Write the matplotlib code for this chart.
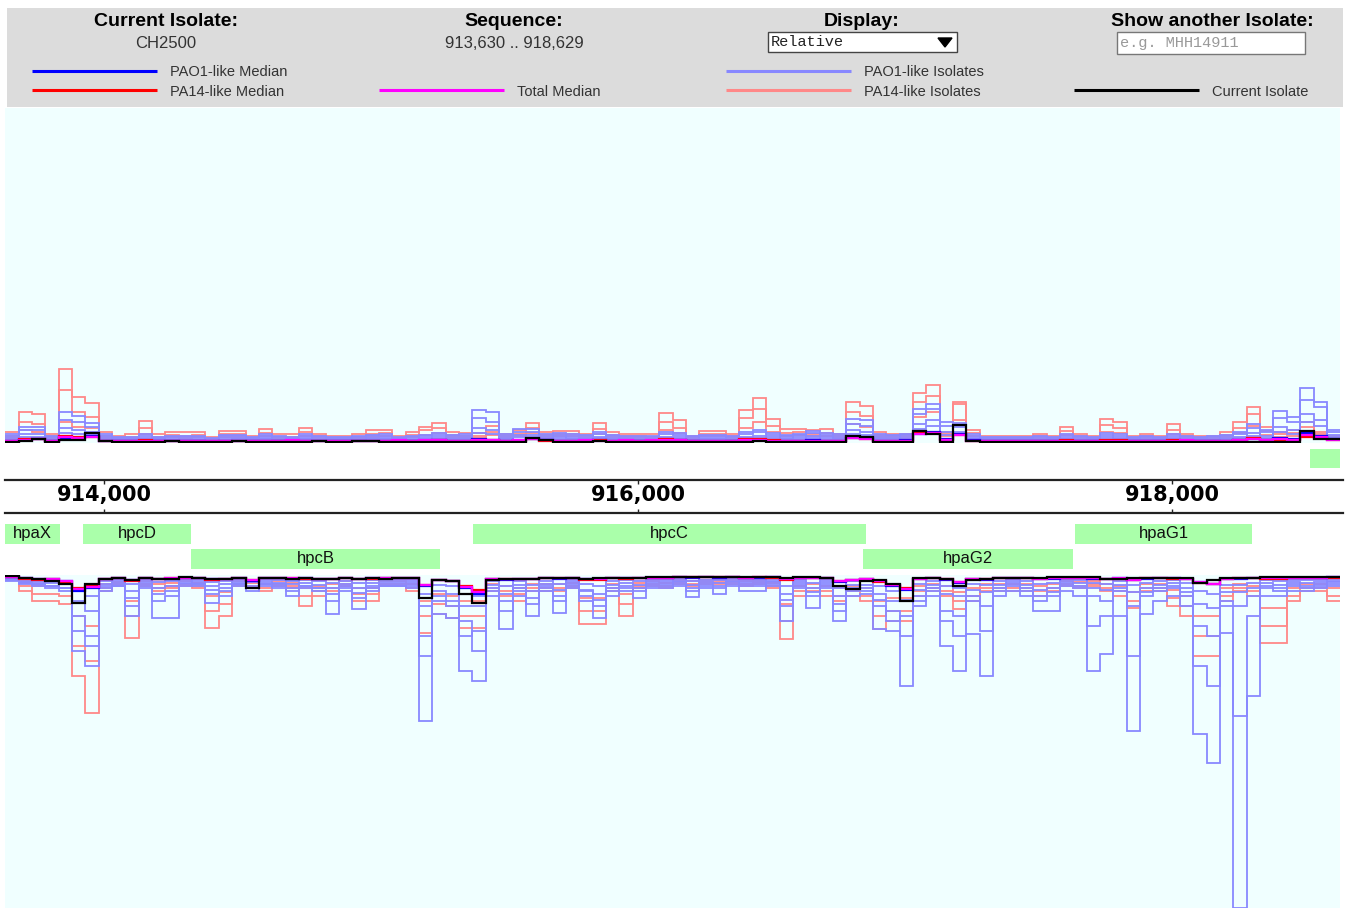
import numpy as np
import matplotlib
matplotlib.use('Agg')
import matplotlib.pyplot as plt
from matplotlib.patches import Rectangle, Polygon

W, H = 1347, 908

# sequence window (bp) and bin size of the coverage tracks
seq_start = 913630
seq_end = 918630
bin_size = 50

ticks = [914000, 916000, 918000]
tick_labels = ['914,000', '916,000', '918,000']

gene_names = ['hpaX', 'hpcD', 'hpcB', 'hpcC', 'hpaG2', 'hpaG1', '']
gene_starts = [913630, 913922, 914326, 915382, 916843, 917637, 918517]
gene_ends = [913836, 914326, 915259, 916854, 917629, 918300, 918650]
gene_tracks = [1, 1, 2, 1, 2, 1, 0]

# ---- forward strand (drawn upward) ----
top_pa14_a = [10, 30, 28, 8, 73, 45, 39, 10, 6, 8,
              21, 8, 10, 10, 10, 5, 11, 11, 6, 13,
              8, 8, 14, 8, 6, 6, 8, 12, 12, 6,
              10, 15, 19, 10, 9, 9, 16, 8, 12, 19,
              10, 11, 11, 8, 19, 10, 8, 8, 8, 29,
              22, 6, 11, 11, 8, 32, 44, 23, 13, 13,
              12, 13, 8, 40, 36, 10, 8, 8, 49, 57,
              10, 40, 12, 6, 6, 6, 6, 8, 6, 15,
              8, 6, 23, 20, 6, 8, 6, 18, 8, 6,
              6, 10, 20, 35, 15, 10, 12, 20, 10, 6]
top_pa14_b = [6, 20, 18, 6, 52, 30, 25, 6, 5, 5,
              14, 5, 7, 6, 7, 4, 8, 8, 4, 9,
              5, 5, 10, 6, 4, 4, 5, 8, 9, 4,
              7, 12, 14, 7, 6, 6, 10, 6, 8, 14,
              7, 8, 8, 6, 13, 7, 6, 6, 5, 20,
              14, 4, 8, 8, 6, 24, 33, 16, 9, 10,
              8, 9, 6, 30, 26, 7, 6, 6, 40, 46,
              8, 38, 9, 4, 4, 4, 5, 6, 5, 11,
              6, 5, 17, 14, 4, 6, 5, 12, 6, 5,
              5, 7, 14, 28, 11, 8, 9, 15, 8, 5]
top_pa14_c = [4, 12, 10, 4, 20, 15, 14, 4, 3, 3,
              8, 3, 5, 4, 5, 3, 5, 5, 3, 6,
              3, 3, 6, 4, 3, 3, 4, 5, 6, 3,
              5, 7, 9, 5, 4, 4, 7, 4, 6, 9,
              5, 6, 6, 4, 8, 5, 4, 4, 3, 12,
              9, 3, 6, 6, 4, 14, 20, 10, 6, 7,
              6, 6, 4, 18, 15, 5, 4, 4, 25, 30,
              6, 22, 6, 3, 3, 3, 4, 4, 3, 7,
              4, 3, 10, 9, 3, 4, 3, 8, 4, 3,
              3, 5, 9, 16, 7, 5, 6, 10, 5, 3]
top_pao1_a = [8, 15, 15, 6, 30, 26, 19, 8, 5, 5,
              8, 5, 6, 6, 6, 4, 7, 7, 5, 8,
              6, 5, 8, 6, 5, 5, 6, 7, 8, 5,
              6, 7, 9, 7, 8, 32, 30, 8, 13, 13,
              8, 9, 8, 7, 10, 7, 6, 6, 6, 10,
              9, 6, 7, 7, 6, 10, 12, 9, 7, 8,
              11, 9, 8, 23, 22, 8, 7, 8, 33, 38,
              20, 19, 8, 5, 5, 5, 5, 6, 5, 8,
              6, 5, 9, 8, 5, 6, 5, 8, 6, 5,
              6, 7, 10, 18, 12, 31, 25, 54, 40, 12]
top_pao1_b = [6, 12, 12, 5, 22, 20, 15, 6, 4, 4,
              6, 4, 5, 5, 5, 3, 6, 6, 4, 6,
              5, 4, 6, 5, 4, 4, 5, 6, 6, 4,
              5, 6, 7, 6, 6, 24, 20, 6, 10, 10,
              6, 7, 6, 6, 8, 6, 5, 5, 5, 8,
              7, 5, 6, 6, 5, 8, 10, 7, 6, 7,
              9, 7, 6, 18, 16, 6, 6, 7, 28, 33,
              16, 15, 6, 4, 4, 4, 4, 5, 4, 6,
              5, 4, 7, 6, 4, 5, 4, 6, 5, 4,
              5, 6, 8, 14, 10, 24, 20, 42, 35, 10]
top_pao1_c = [4, 8, 8, 3, 14, 12, 10, 4, 3, 3,
              4, 3, 3, 3, 3, 2, 4, 4, 3, 4,
              3, 3, 4, 3, 3, 3, 3, 4, 4, 3,
              3, 4, 5, 4, 4, 14, 12, 4, 7, 7,
              4, 5, 4, 4, 5, 4, 3, 3, 3, 5,
              5, 3, 4, 4, 3, 5, 6, 5, 4, 5,
              6, 5, 4, 12, 10, 4, 4, 5, 18, 22,
              10, 10, 4, 3, 3, 3, 3, 3, 3, 4,
              3, 3, 5, 4, 3, 3, 3, 4, 3, 3,
              3, 4, 5, 9, 6, 15, 12, 28, 22, 7]
top_pao1_d = [2, 5, 5, 2, 9, 8, 7, 2, 2, 2,
              3, 2, 2, 2, 2, 1, 2, 3, 2, 3,
              2, 2, 3, 2, 2, 2, 2, 3, 3, 2,
              2, 3, 3, 3, 3, 9, 8, 3, 5, 5,
              3, 3, 3, 3, 4, 3, 2, 2, 2, 4,
              3, 2, 3, 3, 2, 4, 4, 3, 3, 3,
              4, 3, 3, 8, 7, 3, 3, 3, 13, 16,
              7, 7, 3, 2, 2, 2, 2, 2, 2, 3,
              2, 2, 3, 3, 2, 2, 2, 3, 2, 2,
              2, 3, 4, 6, 4, 10, 8, 20, 16, 5]
top_pao1_median = [1, 2, 3, 1, 4, 4, 6, 1, 1, 1,
                   1, 1, 1, 1, 1, 0, 1, 1, 1, 1,
                   1, 1, 1, 1, 1, 1, 1, 1, 1, 1,
                   1, 1, 2, 1, 1, 3, 2, 1, 2, 3,
                   2, 1, 1, 1, 2, 1, 1, 1, 1, 2,
                   2, 1, 1, 1, 1, 2, 2, 1, 1, 1,
                   2, 1, 1, 4, 4, 1, 1, 2, 8, 10,
                   3, 8, 2, 1, 1, 1, 1, 1, 1, 1,
                   1, 1, 1, 1, 1, 1, 1, 1, 1, 1,
                   1, 1, 2, 3, 2, 4, 3, 9, 6, 3]
top_pa14_median = [1, 3, 3, 1, 6, 5, 5, 1, 1, 1,
                   2, 1, 1, 1, 1, 1, 1, 1, 1, 1,
                   1, 1, 1, 1, 1, 1, 1, 1, 1, 1,
                   1, 1, 2, 1, 1, 2, 2, 1, 1, 3,
                   1, 1, 1, 1, 2, 1, 1, 1, 1, 3,
                   2, 1, 1, 1, 1, 3, 3, 2, 1, 1,
                   1, 1, 1, 4, 3, 1, 1, 1, 9, 9,
                   2, 7, 1, 1, 1, 1, 1, 1, 1, 2,
                   1, 1, 2, 2, 1, 1, 1, 2, 1, 1,
                   1, 1, 2, 4, 2, 2, 2, 5, 4, 2]
top_total_median = [1, 2, 3, 1, 5, 4, 5, 1, 1, 1,
                    1, 1, 1, 1, 1, 1, 1, 1, 1, 1,
                    1, 2, 1, 1, 1, 1, 1, 1, 1, 2,
                    1, 2, 2, 1, 1, 2, 2, 1, 2, 3,
                    2, 1, 1, 2, 1, 1, 2, 1, 2, 2,
                    2, 1, 1, 1, 1, 2, 2, 1, 1, 1,
                    1, 1, 1, 4, 3, 1, 1, 1, 8, 9,
                    2, 7, 1, 1, 1, 1, 1, 1, 1, 1,
                    1, 1, 1, 1, 1, 1, 1, 1, 2, 1,
                    1, 1, 2, 3, 2, 3, 2, 7, 5, 2]
top_current = [0, 1, 3, 0, 2, 2, 9, 1, 0, 0,
               0, 0, 1, 0, 0, 0, 0, 1, 0, 0,
               0, 0, 0, 1, 0, 0, 1, 1, 0, 0,
               0, 0, 0, 0, 0, 0, 0, 0, 0, 4,
               2, 0, 0, 0, 1, 0, 0, 0, 0, 0,
               0, 0, 0, 0, 0, 0, 1, 0, 0, 0,
               0, 0, 0, 6, 5, 0, 0, 0, 11, 8,
               0, 17, 1, 0, 0, 0, 0, 0, 0, 0,
               0, 0, 0, 0, 0, 0, 0, 0, 0, 0,
               0, 0, 0, 0, 0, 0, 0, 11, 3, 3]

# ---- reverse strand (drawn downward) ----
bot_pao1_a = [4, 6, 8, 10, 12, 75, 90, 15, 10, 40,
              12, 42, 42, 10, 8, 27, 20, 8, 12, 8,
              8, 20, 10, 12, 38, 10, 33, 15, 10, 10,
              12, 145, 38, 42, 95, 105, 20, 53, 20, 40,
              15, 37, 12, 15, 42, 20, 15, 22, 12, 12,
              10, 21, 12, 18, 10, 15, 15, 10, 45, 12,
              32, 12, 45, 20, 18, 53, 55, 110, 30, 20,
              70, 95, 58, 100, 20, 15, 20, 35, 35, 15,
              20, 95, 78, 40, 155, 38, 25, 20, 30, 158,
              187, 57, 332, 120, 20, 20, 15, 15, 12, 10]
bot_pao1_b = [5, 8, 10, 12, 15, 40, 60, 12, 10, 30,
              10, 25, 20, 8, 10, 18, 15, 10, 15, 10,
              12, 15, 12, 15, 25, 15, 22, 12, 10, 10,
              10, 60, 25, 30, 60, 55, 15, 35, 15, 28,
              12, 25, 10, 25, 30, 15, 12, 15, 10, 10,
              8, 15, 10, 12, 8, 10, 10, 8, 30, 10,
              20, 10, 35, 15, 15, 30, 45, 40, 25, 15,
              35, 40, 25, 30, 15, 10, 15, 25, 20, 10,
              12, 20, 25, 15, 30, 20, 15, 12, 20, 50,
              60, 30, 30, 20, 12, 15, 10, 12, 10, 8]
bot_pao1_c = [3, 5, 6, 7, 8, 25, 35, 8, 6, 15,
              6, 12, 10, 5, 6, 10, 8, 6, 10, 6,
              7, 8, 7, 9, 12, 8, 12, 7, 6, 6,
              6, 30, 15, 18, 30, 30, 9, 18, 9, 15,
              8, 14, 6, 14, 18, 9, 7, 9, 6, 6,
              5, 9, 6, 7, 5, 6, 6, 5, 18, 6,
              12, 6, 20, 9, 9, 18, 25, 24, 14, 9,
              18, 20, 14, 16, 9, 6, 9, 14, 12, 6,
              7, 12, 14, 9, 16, 12, 9, 7, 12, 28,
              32, 16, 16, 12, 7, 9, 6, 7, 6, 5]
bot_pao1_d = [2, 3, 3, 4, 5, 15, 20, 5, 4, 8,
              4, 6, 5, 3, 4, 6, 5, 4, 6, 4,
              4, 5, 4, 5, 7, 5, 7, 4, 4, 4,
              4, 18, 9, 10, 18, 20, 5, 10, 5, 9,
              5, 8, 4, 8, 10, 5, 4, 5, 4, 4,
              3, 5, 4, 4, 3, 4, 4, 3, 10, 4,
              7, 4, 12, 5, 5, 10, 15, 14, 8, 5,
              10, 12, 8, 9, 5, 4, 5, 8, 7, 4,
              4, 7, 8, 5, 9, 7, 5, 4, 7, 15,
              18, 9, 9, 7, 4, 5, 4, 4, 4, 3]
bot_pao1_e = [4, 7, 8, 10, 12, 55, 70, 10, 8, 22,
              8, 18, 15, 7, 8, 14, 12, 8, 12, 8,
              10, 12, 10, 12, 18, 12, 17, 10, 8, 8,
              8, 80, 20, 25, 45, 75, 12, 25, 12, 22,
              10, 20, 8, 20, 24, 12, 10, 12, 8, 8,
              6, 12, 8, 10, 6, 8, 8, 6, 24, 8,
              16, 8, 28, 12, 12, 24, 35, 60, 20, 12,
              45, 60, 20, 55, 12, 8, 12, 20, 16, 8,
              10, 50, 40, 12, 80, 16, 12, 10, 16, 90,
              110, 25, 140, 40, 10, 12, 8, 10, 8, 6]
bot_pa14_a = [3, 15, 25, 25, 28, 100, 137, 15, 10, 62,
              10, 15, 12, 10, 12, 52, 40, 10, 12, 15,
              10, 12, 30, 20, 15, 10, 25, 25, 10, 10,
              15, 57, 38, 42, 52, 52, 15, 20, 25, 15,
              15, 15, 12, 48, 48, 15, 40, 12, 10, 12,
              8, 10, 8, 8, 8, 10, 8, 12, 63, 20,
              15, 20, 25, 20, 25, 53, 45, 45, 20, 15,
              20, 33, 25, 15, 15, 15, 15, 20, 15, 10,
              12, 10, 15, 20, 32, 15, 15, 30, 40, 80,
              80, 25, 15, 20, 67, 67, 25, 15, 15, 25]
bot_pa14_b = [3, 10, 18, 18, 20, 70, 85, 12, 8, 40,
              8, 12, 10, 8, 10, 35, 28, 8, 10, 12,
              8, 10, 20, 15, 12, 8, 18, 18, 8, 8,
              12, 40, 28, 30, 40, 40, 12, 15, 18, 12,
              12, 12, 10, 35, 35, 12, 28, 10, 8, 10,
              6, 8, 6, 6, 6, 8, 6, 10, 45, 15,
              12, 15, 20, 15, 20, 40, 35, 35, 15, 12,
              15, 25, 20, 12, 12, 12, 12, 15, 12, 8,
              10, 8, 12, 15, 25, 12, 12, 22, 30, 60,
              60, 20, 12, 15, 50, 50, 20, 12, 12, 20]
bot_pa14_c = [2, 6, 10, 10, 12, 40, 50, 8, 6, 25,
              5, 8, 7, 5, 7, 20, 16, 5, 7, 8,
              5, 7, 12, 10, 8, 5, 12, 12, 5, 5,
              8, 25, 18, 20, 25, 25, 8, 10, 12, 8,
              8, 8, 7, 22, 22, 8, 18, 7, 5, 7,
              4, 5, 4, 4, 4, 5, 4, 7, 28, 10,
              8, 10, 12, 10, 12, 25, 22, 22, 10, 8,
              10, 16, 12, 8, 8, 8, 8, 10, 8, 5,
              6, 5, 8, 10, 16, 8, 8, 14, 20, 40,
              40, 12, 8, 10, 32, 32, 12, 8, 8, 12]
bot_pao1_median = [1, 2, 3, 3, 5, 15, 12, 3, 2, 4,
                   2, 3, 3, 2, 2, 3, 3, 2, 5, 2,
                   2, 3, 2, 3, 3, 2, 3, 2, 2, 2,
                   2, 10, 4, 5, 12, 18, 3, 4, 3, 3,
                   2, 3, 2, 3, 3, 2, 2, 2, 2, 2,
                   1, 2, 1, 2, 1, 2, 2, 1, 3, 2,
                   2, 2, 6, 4, 3, 5, 10, 14, 3, 2,
                   4, 7, 3, 4, 2, 2, 2, 3, 3, 2,
                   2, 3, 3, 2, 4, 3, 2, 2, 3, 6,
                   8, 3, 3, 2, 2, 2, 2, 2, 2, 1]
bot_pa14_median = [1, 3, 4, 3, 6, 12, 10, 3, 2, 5,
                   2, 3, 2, 2, 2, 4, 3, 2, 4, 2,
                   2, 2, 3, 3, 3, 2, 3, 3, 2, 2,
                   2, 9, 4, 5, 10, 14, 3, 3, 3, 3,
                   2, 2, 2, 4, 4, 2, 3, 2, 2, 2,
                   1, 1, 1, 1, 1, 2, 1, 2, 4, 2,
                   2, 2, 5, 4, 3, 6, 9, 12, 3, 2,
                   3, 6, 3, 3, 2, 2, 2, 3, 2, 2,
                   2, 2, 3, 3, 4, 2, 2, 3, 3, 7,
                   8, 3, 2, 2, 3, 3, 2, 2, 2, 2]
bot_total_median = [1, 2, 3, 3, 5, 13, 11, 3, 2, 4,
                    2, 3, 2, 2, 2, 3, 3, 2, 4, 2,
                    2, 2, 2, 3, 3, 2, 3, 2, 2, 2,
                    2, 9, 4, 5, 11, 16, 3, 3, 3, 3,
                    2, 2, 2, 3, 3, 2, 2, 2, 2, 2,
                    1, 1, 1, 1, 1, 2, 1, 1, 3, 2,
                    2, 2, 5, 4, 3, 5, 9, 13, 3, 2,
                    3, 6, 3, 3, 2, 2, 2, 3, 2, 2,
                    2, 2, 3, 2, 4, 2, 2, 2, 3, 6,
                    8, 3, 2, 2, 2, 2, 2, 2, 2, 1]
bot_current = [0, 2, 3, 5, 8, 27, 8, 3, 2, 4,
               2, 3, 3, 1, 2, 3, 3, 2, 12, 2,
               2, 3, 2, 3, 3, 2, 3, 2, 3, 2,
               2, 22, 4, 5, 18, 27, 4, 3, 3, 3,
               2, 2, 2, 3, 2, 2, 2, 2, 1, 1,
               1, 1, 1, 1, 1, 1, 1, 1, 2, 1,
               1, 2, 10, 13, 5, 4, 8, 25, 2, 2,
               3, 10, 4, 3, 2, 2, 2, 2, 1, 1,
               1, 1, 3, 3, 2, 2, 2, 2, 2, 7,
               4, 2, 2, 2, 1, 1, 1, 1, 1, 1]

PAO1_ISO = '#8888ff'
PA14_ISO = '#ff8888'
PLOT_BG = '#f0ffff'
GENE_GREEN = '#aaffaa'
SANS = 'Liberation Sans'
MONO = 'Liberation Mono'


def px_axes(fig, x0, y0, x1, y1):
    # axes placed with top-left pixel coordinates
    return fig.add_axes([x0 / W, 1 - y1 / H, (x1 - x0) / W, (y1 - y0) / H])


def clean(ax, face):
    ax.set_xticks([])
    ax.set_yticks([])
    for s in ax.spines.values():
        s.set_visible(False)
    ax.set_facecolor(face)


def draw_tracks(ax, edges, pao1, pa14, medians, current):
    for vals in pa14:
        ax.stairs(vals, edges, baseline=None, color=PA14_ISO, lw=1.3)
    for vals in pao1:
        ax.stairs(vals, edges, baseline=None, color=PAO1_ISO, lw=1.3)
    for vals, c in zip(medians, ['#0000ff', '#ff0000', '#ff00ff']):
        ax.stairs(vals, edges, baseline=None, color=c, lw=1.6)
    ax.stairs(current, edges, baseline=None, color='black', lw=1.6)


fig = plt.figure(figsize=(W / 100, H / 100), dpi=100)

# header / overlay in pixel coords
ax_o = fig.add_axes([0, 0, 1, 1])
ax_o.set_xlim(0, W)
ax_o.set_ylim(H, 0)
ax_o.axis('off')
ax_o.add_patch(Rectangle((7, 8), 1336, 99, color='#dcdcdc', lw=0))

for x, title, sub in [(166, 'Current Isolate:', 'CH2500'), (514, 'Sequence:', '913,630 .. 918,629'),
                      (862, 'Display:', None), (1212, 'Show another Isolate:', None)]:
    ax_o.text(x, 21.5, title, ha='center', va='center', fontsize=14, fontweight='bold', family=SANS, color='black')
    if sub:
        ax_o.text(x, 43.5, sub, ha='center', va='center', fontsize=12, family=SANS, color='#333333')

# dropdown and input box
ax_o.add_patch(Rectangle((768, 32), 189, 20, facecolor='white', edgecolor='#444444', lw=1))
ax_o.text(771, 42.5, 'Relative', ha='left', va='center', fontsize=11, family=MONO, color='#222222')
ax_o.add_patch(Polygon([[938, 38], [952, 38], [945, 47]], closed=True, color='black'))
ax_o.add_patch(Rectangle((1117, 32), 188, 22, facecolor='white', edgecolor='#777777', lw=1))
ax_o.text(1120, 43.5, 'e.g. MHH14911', ha='left', va='center', fontsize=11, family=MONO, color='#999999')

legend_items = [
    (32, 71, '#0000ff', 'PAO1-like Median'),
    (32, 90, '#ff0000', 'PA14-like Median'),
    (379, 90, '#ff00ff', 'Total Median'),
    (726, 71, PAO1_ISO, 'PAO1-like Isolates'),
    (726, 90, PA14_ISO, 'PA14-like Isolates'),
    (1074, 90, 'black', 'Current Isolate'),
]
for x, y, c, label in legend_items:
    ax_o.plot([x, x + 125], [y, y], color=c, lw=2.2, solid_capstyle='butt')
    ax_o.text(x + 138, y + 1.5, label, ha='left', va='center', fontsize=10.5, family=SANS, color='#333333')

edges = np.arange(seq_start, seq_end + 1, bin_size)

# forward strand panel
ax_top = px_axes(fig, 5.2, 108, 1340.2, 443)
clean(ax_top, PLOT_BG)
ax_top.set_xlim(seq_start, seq_end)
ax_top.set_ylim(-1, 334)
draw_tracks(ax_top, edges,
            [top_pao1_a, top_pao1_b, top_pao1_c, top_pao1_d],
            [top_pa14_a, top_pa14_b, top_pa14_c],
            [top_pao1_median, top_pa14_median, top_total_median],
            top_current)

# reverse strand panel (depth drawn downward)
ax_bot = px_axes(fig, 5.2, 575, 1340.2, 908)
clean(ax_bot, PLOT_BG)
ax_bot.set_xlim(seq_start, seq_end)
ax_bot.set_ylim(332, -1)
draw_tracks(ax_bot, edges,
            [bot_pao1_a, bot_pao1_e, bot_pao1_b, bot_pao1_c, bot_pao1_d],
            [bot_pa14_a, bot_pa14_b, bot_pa14_c],
            [bot_pao1_median, bot_pa14_median, bot_total_median],
            bot_current)

# ruler and genes, x in bp, y in pixel rows
ax_g = px_axes(fig, 5.2, 443, 1340.2, 575)
clean(ax_g, 'none')
ax_g.set_xlim(seq_start, seq_end)
ax_g.set_ylim(575, 443)

for y in (480, 513):
    ax_g.plot([seq_start - 2, seq_end + 12], [y, y], color='#222222', lw=1.6, clip_on=False)
ax_g.vlines(ticks, 480, 484, color='#222222', lw=1)
ax_g.vlines(ticks, 509, 513, color='#222222', lw=1)
for t, lab in zip(ticks, tick_labels):
    ax_g.text(t, 495, lab, ha='center', va='center', fontsize=15, fontweight='bold', family='DejaVu Sans')

track_y = {0: 458.5, 1: 534, 2: 559}
track_h = {0: 19, 1: 20, 2: 20}
for name, s, e, tr in zip(gene_names, gene_starts, gene_ends, gene_tracks):
    ax_g.barh(track_y[tr], e - s, left=s, height=track_h[tr], color=GENE_GREEN, lw=0)
    if name:
        ax_g.text((s + e) / 2, track_y[tr], name, ha='center', va='center', fontsize=12, family=SANS, color='#111111')

fig.savefig('out.png', dpi=100)
